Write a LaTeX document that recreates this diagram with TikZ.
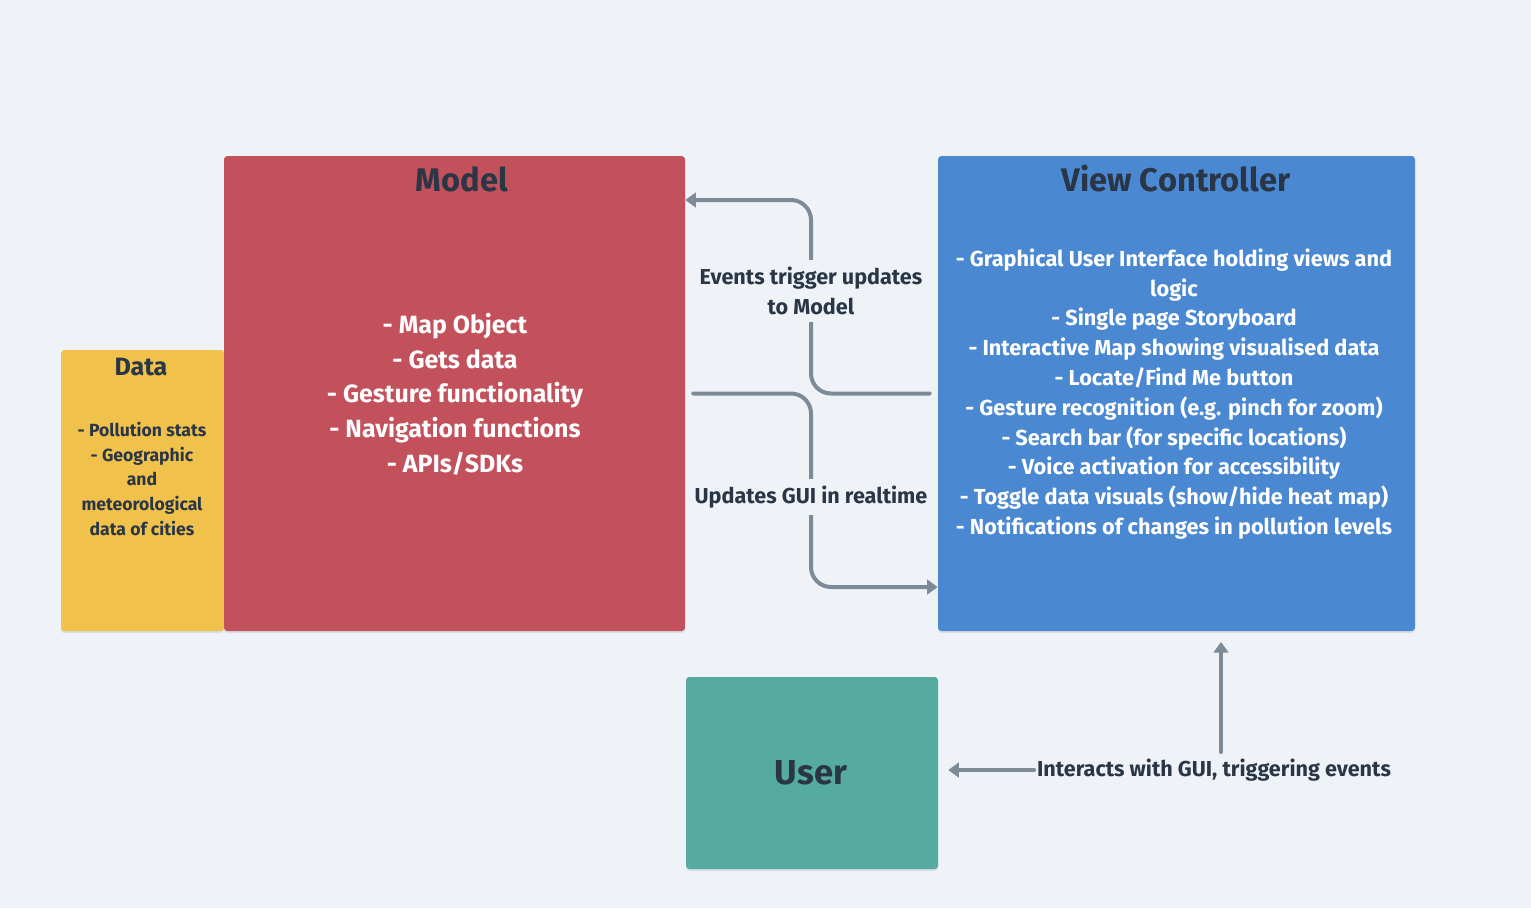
\documentclass[tikz,border=0pt]{standalone}
\usepackage{fontspec}
\setmainfont{Fira Sans}
\usetikzlibrary{arrows.meta,calc,shadows}
\definecolor{bg}{HTML}{EFF3F7}
\definecolor{datac}{HTML}{F0C24C}
\definecolor{modelc}{HTML}{C3515C}
\definecolor{vcc}{HTML}{4A88D2}
\definecolor{userc}{HTML}{55AB9F}
\definecolor{ink}{HTML}{2A3646}
\definecolor{conc}{HTML}{7D8A98}
\begin{document}
\begin{tikzpicture}[x=0.75pt,y=-0.75pt,
  box/.style={rectangle,rounded corners=2.5pt,inner sep=0pt,
    drop shadow={opacity=0.18,shadow xshift=0pt,shadow yshift=-1.5pt}},
  ttl/.style={font=\bfseries\fontsize{24.5}{28}\selectfont,text=ink,inner sep=0pt},
  body/.style={font=\bfseries,align=center,inner sep=0pt},
  lbl/.style={font=\bfseries\fontsize{16.2}{22.4}\selectfont,text=ink,align=center,fill=bg,inner xsep=2pt,inner ysep=5pt},
  conn/.style={draw=conc,line width=3pt,line cap=round,rounded corners=15pt},
  tip/.style={-{Triangle[length=8pt,width=11pt]}}]
\fill[bg] (0,0) rectangle (1531,908);
\useasboundingbox (0,0) rectangle (1531,908);

% boxes
\node[box,fill=datac,minimum width={163*0.75pt},minimum height={281*0.75pt}] (data) at (142.5,490.5) {};
\node[box,fill=modelc,minimum width={461*0.75pt},minimum height={475*0.75pt}] (model) at (454.5,393.5) {};
\node[box,fill=vcc,minimum width={477*0.75pt},minimum height={475*0.75pt}] (vc) at (1176.5,393.5) {};
\node[box,fill=userc,minimum width={252*0.75pt},minimum height={192*0.75pt}] (user) at (812,773) {};

% titles
\node[ttl] (modelt) at (462,179) {Model};
\node[ttl] (vct) at (1176,179) {View Controller};
\node[ttl,font=\bfseries\fontsize{18.8}{22}\selectfont] (datat) at (141,367) {Data};
\node[ttl,font=\bfseries\fontsize{26}{30}\selectfont] (usert) at (811,773) {User};

% bodies
\node[body,text=white,font=\bfseries\fontsize{18.7}{26}\selectfont] (modelb) at (455,394)
  {- Map Object\\- Gets data\\- Gesture functionality\\- Navigation functions\\- APIs/SDKs};
\node[body,text=white,font=\bfseries\fontsize{16.3}{22.35}\selectfont] (vcb) at (1174,394)
  {- Graphical User Interface holding views and\\logic\\- Single page Storyboard\\- Interactive Map showing visualised data\\- Locate/Find Me button\\- Gesture recognition (e.g. pinch for zoom)\\- Search bar (for specific locations)\\- Voice activation for accessibility\\- Toggle data visuals (show/hide heat map)\\- Notifications of changes in pollution levels};
\node[body,text=ink,font=\bfseries\fontsize{13.2}{18.6}\selectfont] (datab) at (142,479)
  {- Pollution stats\\- Geographic\\and\\meteorological\\data of cities};

% connectors
\coordinate (k1) at (811,200);
\coordinate (k2) at (811,587);
\draw[conn,tip,shorten <=6pt] (vc.west) -| (k1) -- (k1 -| model.east);
\draw[conn,tip,shorten <=6pt] (model.east) -| (k2) -- (k2 -| vc.west);
\node[lbl] (l1) at (811,291) {Events trigger updates\\to Model};
\node[lbl] (l2) at (811,497) {Updates GUI in realtime};
\node[lbl,fill=none,inner sep=2pt] (l3) at (1214,770) {Interacts with GUI, triggering events};
\coordinate (k3) at (1221,752);
\draw[conn,tip,shorten >=8pt] (k3) -- (k3 |- vc.south);
\draw[conn,tip,shorten >=7.5pt] (l3.west) -- (l3.west -| user.east);
\end{tikzpicture}
\end{document}
